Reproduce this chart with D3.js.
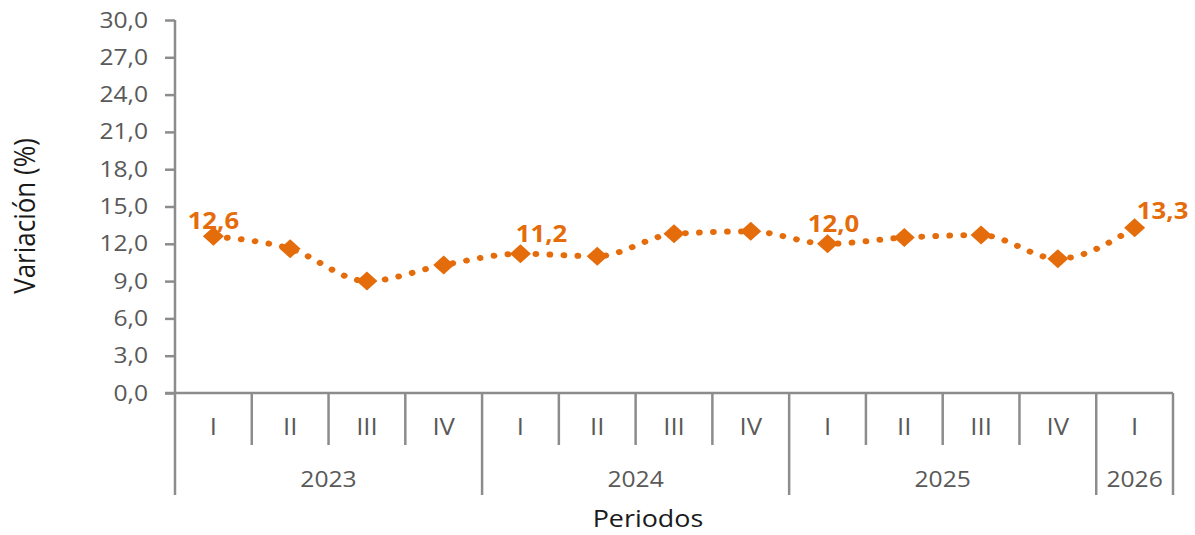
<!DOCTYPE html>
<html>
<head>
<meta charset="utf-8">
<script src="https://cdn.jsdelivr.net/npm/d3@7"></script>
<style>
	body { margin: 0; background: #fff; }
	svg { display: block; }
	text { font-family: "Open Sans", sans-serif; }
</style>
</head>
<body>
<div id="chart"></div>
<script>
// data
const quarters = ["I", "II", "III", "IV", "I", "II", "III", "IV", "I", "II", "III", "IV", "I"];
const years = ["2023", "2024", "2025", "2026"];
const yearSpans = [4, 4, 4, 1];
const values = [12.6, 11.6, 9.0, 10.3, 11.2, 11.0, 12.8, 13.0, 12.0, 12.5, 12.7, 10.8, 13.3];
const labelledIdx = [0, 4, 8, 12];
const yTicks = [0, 3, 6, 9, 12, 15, 18, 21, 24, 27, 30];

// manual nudges of the value labels (pixels)
const labelShift = [[0, -15], [21, -20], [6, -20], [28, -17]];

const W = 1195, H = 535;
const S = 1.12; // the original picture is stretched a bit sideways
const fmt = d => d.toFixed(1).replace(".", ",");
const orange = "#E46C0A", axisGrey = "#8c8c8c", textGrey = "#595959";

const svg = d3.select("#chart").append("svg")
	.attr("width", W)
	.attr("height", H)
	.attr("viewBox", `0 0 ${W / S} ${H}`)
	.attr("preserveAspectRatio", "none");

const x = d3.scaleBand()
	.domain(d3.range(quarters.length))
	.range([175 / S, 1173 / S]);
const y = d3.scaleLinear()
	.domain([0, 30])
	.range([393, 20]);
const cx = i => x(i) + x.bandwidth() / 2;

// y axis
const yAxis = svg.append("g")
	.attr("transform", `translate(${175 / S},0)`)
	.call(d3.axisLeft(y).tickValues(yTicks).tickFormat(fmt)
		.tickSize(10 / S).tickSizeOuter(0).tickPadding(17 / S));
yAxis.select(".domain").remove();
yAxis.selectAll("line")
	.attr("stroke", axisGrey).attr("stroke-width", 2.5)
	.attr("vector-effect", "non-scaling-stroke");
yAxis.selectAll("text")
	.attr("fill", textGrey).style("font-size", "22px");

// vertical axis line runs down through the category rows
svg.append("line")
	.attr("x1", 175 / S).attr("x2", 175 / S)
	.attr("y1", y(30)).attr("y2", 495)
	.attr("stroke", axisGrey).attr("stroke-width", 2.5)
	.attr("vector-effect", "non-scaling-stroke");

// horizontal axis
svg.append("line")
	.attr("x1", 165 / S).attr("x2", x.range()[1])
	.attr("y1", y(0)).attr("y2", y(0))
	.attr("stroke", axisGrey).attr("stroke-width", 2.5)
	.attr("vector-effect", "non-scaling-stroke");

// separators: short for quarters, long for years
const yearStarts = d3.cumsum(yearSpans);
const bounds = d3.range(1, quarters.length + 1);
svg.append("g").selectAll("line")
	.data(bounds).enter()
	.append("line")
	.attr("x1", i => x(i - 1) + x.bandwidth())
	.attr("x2", i => x(i - 1) + x.bandwidth())
	.attr("y1", y(0))
	.attr("y2", i => yearStarts.includes(i) ? 495 : 445)
	.attr("stroke", axisGrey).attr("stroke-width", 2.5)
	.attr("vector-effect", "non-scaling-stroke");

svg.append("g").selectAll("text")
	.data(quarters).enter()
	.append("text")
	.attr("x", (d, i) => cx(i))
	.attr("y", 427)
	.attr("dy", "0.35em")
	.attr("text-anchor", "middle")
	.attr("fill", textGrey)
	.style("font-size", "23px")
	.text(d => d);

const yearStartIdx = [0, ...yearStarts.slice(0, -1)];
svg.append("g").selectAll("text")
	.data(years).enter()
	.append("text")
	.attr("x", (d, i) => {
		const a = x(yearStartIdx[i]);
		const b = x(yearStartIdx[i] + yearSpans[i] - 1) + x.bandwidth();
		return (a + b) / 2;
	})
	.attr("y", 479)
	.attr("dy", "0.35em")
	.attr("text-anchor", "middle")
	.attr("fill", textGrey)
	.style("font-size", "22px")
	.text(d => d);

// axis titles
svg.append("text")
	.attr("x", 648 / S).attr("y", 519)
	.attr("dy", "0.35em")
	.attr("text-anchor", "middle")
	.attr("fill", "#1a1a1a")
	.style("font-size", "24px")
	.text("Periodos");

svg.append("text")
	.attr("transform", `translate(${25 / S},216) rotate(-90)`)
	.attr("dy", "0.35em")
	.attr("text-anchor", "middle")
	.attr("fill", "#1a1a1a")
	.style("font-size", "26px")
	.text("Variación (%)");

// series
const line = d3.line()
	.x((d, i) => cx(i))
	.y(d => y(d))
	.curve(d3.curveMonotoneX);

svg.append("path")
	.datum(values)
	.attr("d", line)
	.attr("fill", "none")
	.attr("stroke", orange)
	.attr("stroke-width", 6)
	.attr("stroke-linecap", "round")
	.attr("stroke-dasharray", "0.01 12.5");

const hw = 10.5 / S, hh = 9.5;
svg.append("g").selectAll("path")
	.data(values).enter()
	.append("path")
	.attr("transform", (d, i) => `translate(${cx(i)},${y(d)})`)
	.attr("d", `M0,${-hh}L${hw},0L0,${hh}L${-hw},0Z`)
	.attr("fill", orange);

svg.append("g").selectAll("text")
	.data(labelledIdx).enter()
	.append("text")
	.attr("x", (d, k) => cx(d) + labelShift[k][0] / S)
	.attr("y", (d, k) => y(values[d]) + labelShift[k][1])
	.attr("dy", "0.35em")
	.attr("text-anchor", "middle")
	.attr("fill", orange)
	.style("font-size", "23px")
	.style("font-weight", "bold")
	.text(d => fmt(values[d]));
</script>
</body>
</html>
